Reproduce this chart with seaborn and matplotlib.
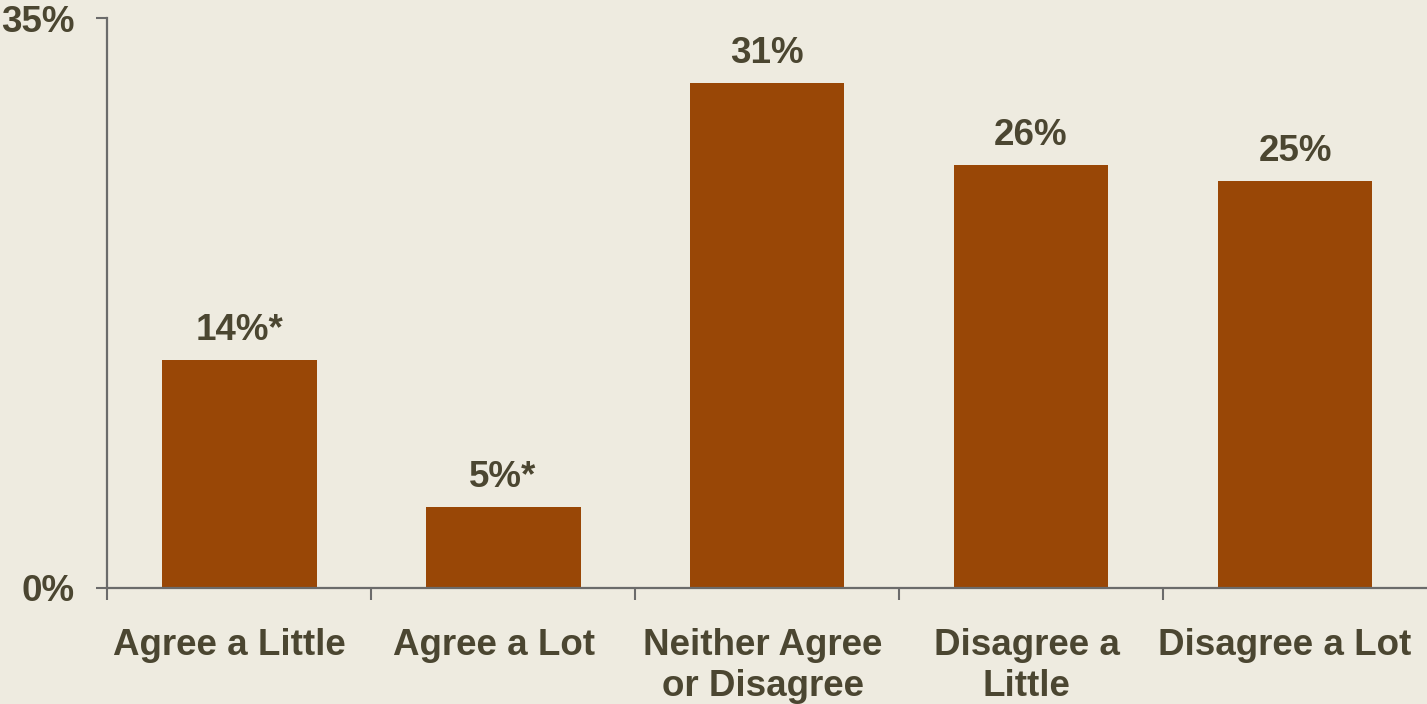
import matplotlib
matplotlib.use("Agg")
import matplotlib.pyplot as plt
import matplotlib.transforms as mtransforms
import seaborn as sns
import pandas as pd
from matplotlib.ticker import FixedLocator

categories = ["Agree a Little", "Agree a Lot", "Neither Agree\nor Disagree",
              "Disagree a\nLittle", "Disagree a Lot"]
values = [14, 5, 31, 26, 25]
labels = ["14%*", "5%*", "31%", "26%", "25%"]

bg = "#EEEBE0"
bar_color = "#994706"
text_color = "#4B4631"
axis_color = "#6B6B6B"

sns.set_theme(style="white")
plt.rcParams['font.family'] = ['Liberation Sans', 'DejaVu Sans']
plt.rcParams['font.weight'] = 'bold'

df = pd.DataFrame({"category": categories, "value": values})

fig = plt.figure(figsize=(14.27, 7.04), dpi=100, facecolor=bg)
ax = fig.add_axes([0.075, 0.1648, 0.925, 0.8096])
ax.set_facecolor(bg)

sns.barplot(data=df, x="category", y="value", color=bar_color, saturation=1,
            width=0.587, linewidth=0, edgecolor="none", ax=ax)

for bar, lab in zip(ax.patches, labels):
    ax.annotate(lab, (bar.get_x() + bar.get_width() / 2, bar.get_height()),
                xytext=(0, 14.4), textcoords="offset points",
                ha="center", va="baseline", fontsize=26.5, fontweight="bold",
                color=text_color)

ax.set_xlim(-0.5, 4.5)
ax.set_ylim(0, 35)
ax.set_yticks([0, 35])
ax.set_yticklabels(["0%", "35%"])
ax.set_xlabel("")
ax.set_ylabel("")

for s in ["top", "right"]:
    ax.spines[s].set_visible(False)
for s in ["left", "bottom"]:
    ax.spines[s].set_color(axis_color)
    ax.spines[s].set_linewidth(1.6)

ax.xaxis.set_minor_locator(FixedLocator([-0.5, 0.5, 1.5, 2.5, 3.5]))
ax.tick_params(axis="x", which="major", length=0, pad=28.5, labelsize=26.5,
               labelcolor=text_color)
ax.tick_params(axis="x", which="minor", bottom=True, length=8.5, width=1.5,
               color=axis_color, direction="out")
ax.tick_params(axis="y", which="major", left=True, length=8, width=1.5,
               color=axis_color, direction="out", pad=15, labelsize=26.5,
               labelcolor=text_color)
for t in ax.get_xticklabels() + ax.get_yticklabels():
    t.set_fontweight("bold")

# small left nudges so the category labels sit where the original ones do
nudges = [-10, -9, -4, -4.5, -10]
for t, dx in zip(ax.get_xticklabels(), nudges):
    t.set_linespacing(1.22)
    t.set_transform(t.get_transform() +
                    mtransforms.ScaledTranslation(dx / 100, 0, fig.dpi_scale_trans))

fig.savefig("out.png", dpi=100, facecolor=bg)
